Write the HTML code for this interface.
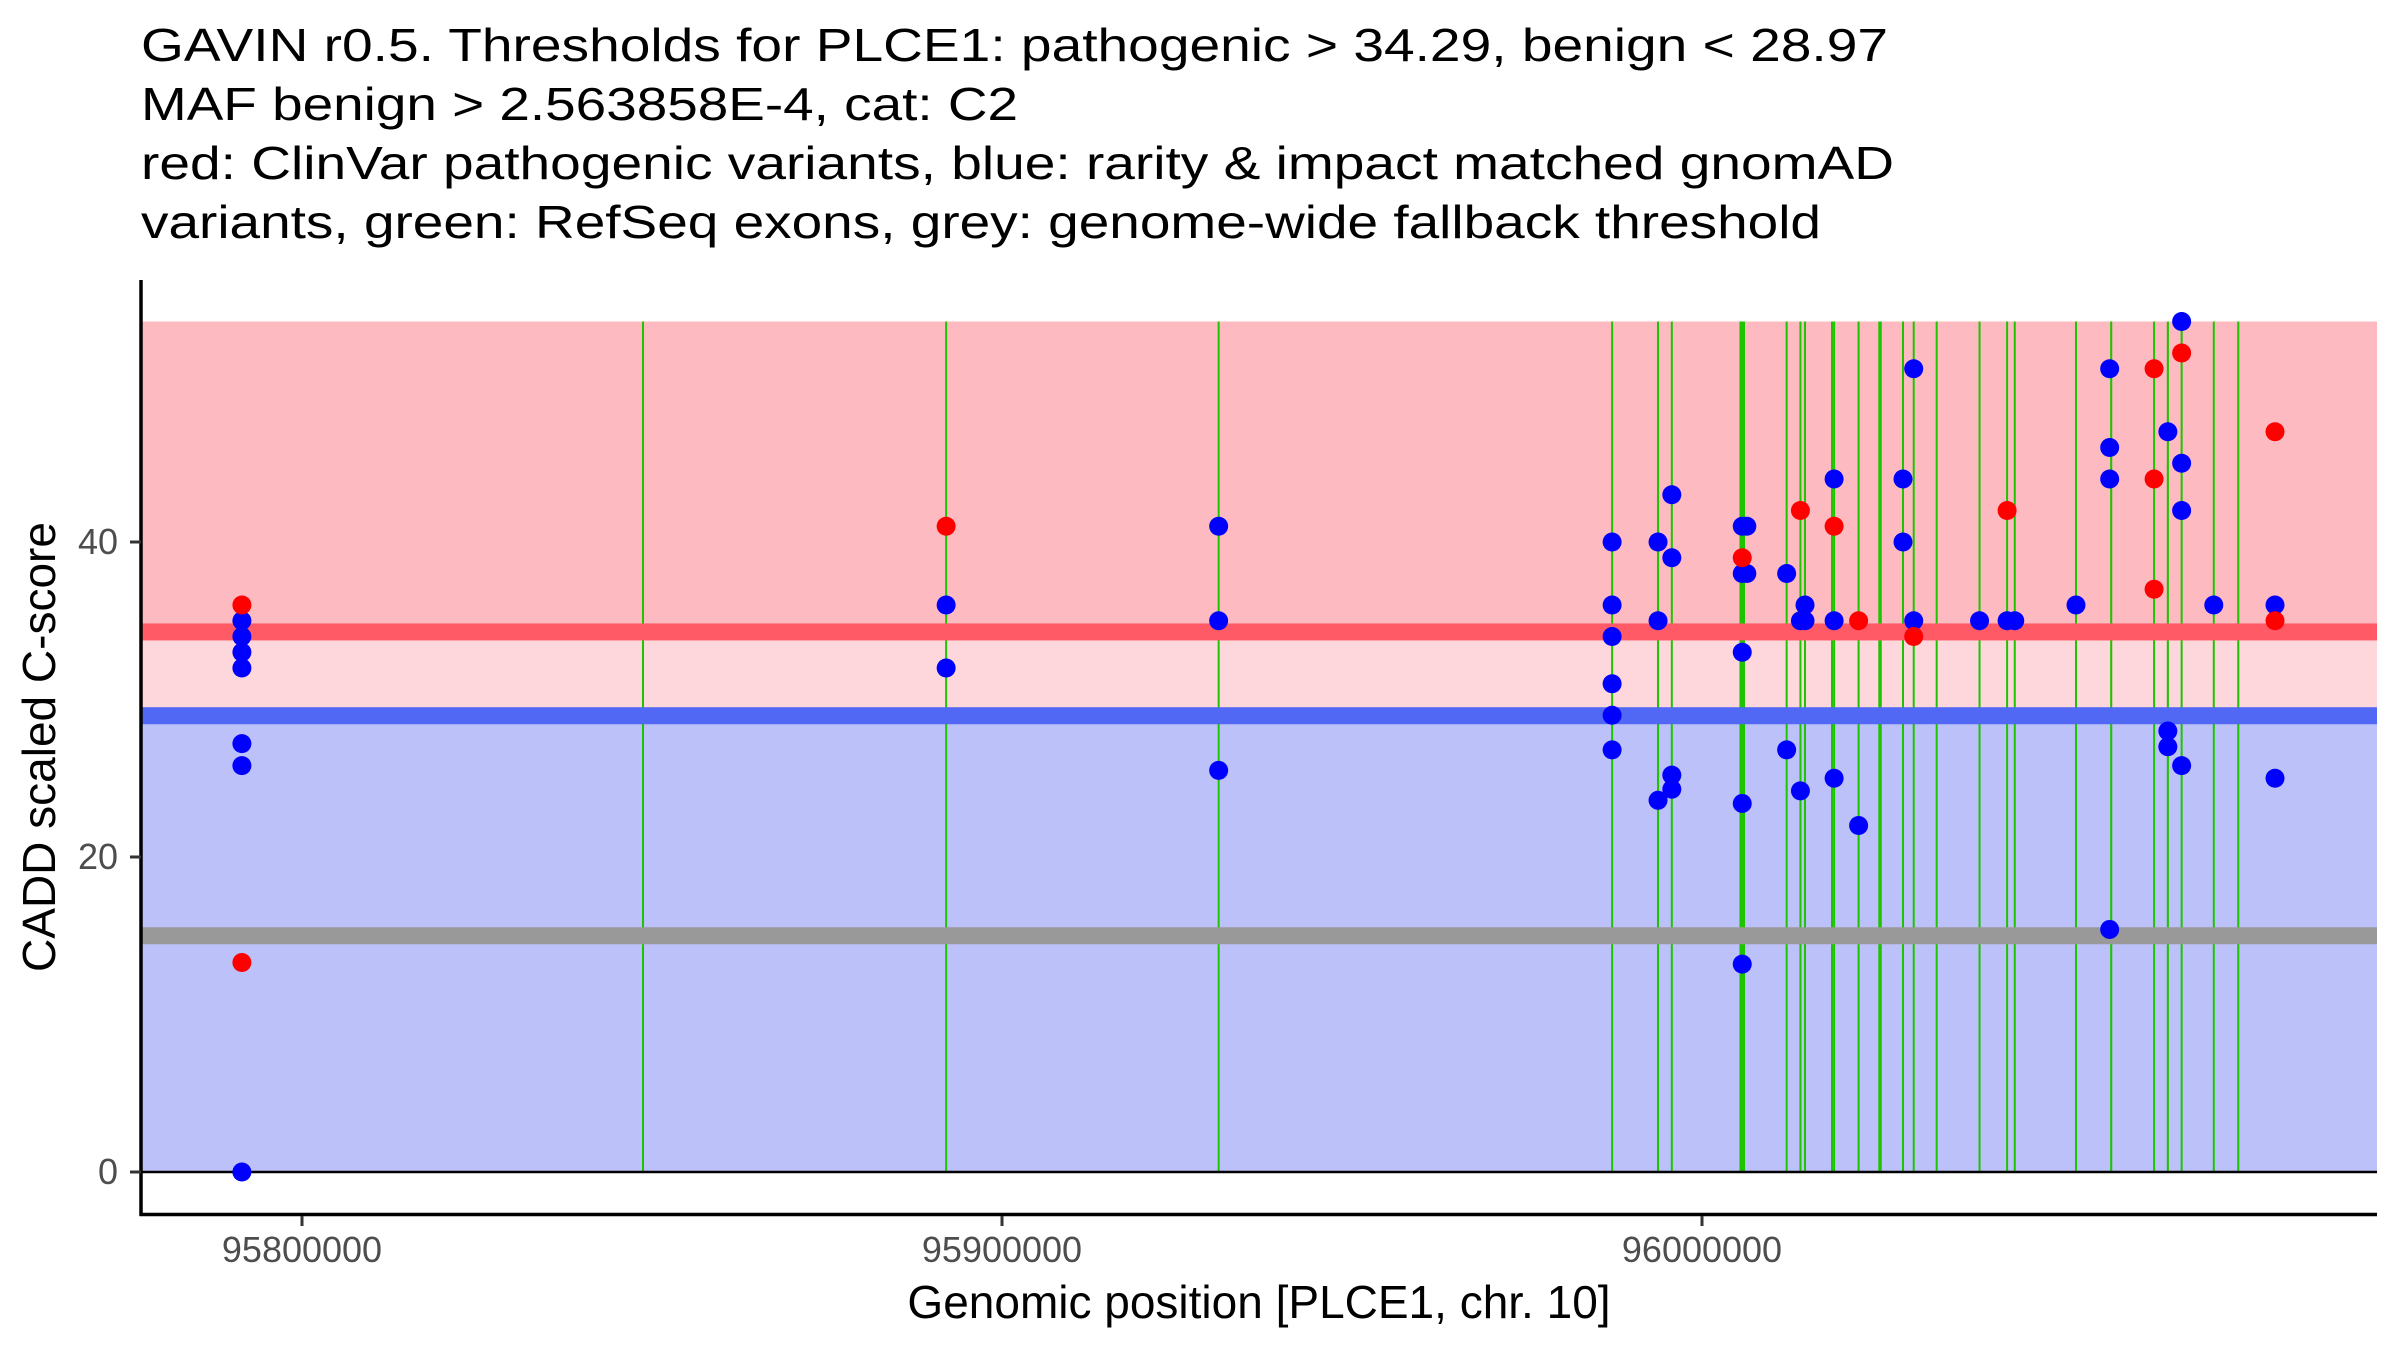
<!DOCTYPE html>
<html><head><meta charset="utf-8"><style>
html,body{margin:0;padding:0;background:#fff}
svg{display:block}
text{font-family:"Liberation Sans",Arial,sans-serif}
</style></head><body>
<svg id="chart" width="2400" height="1350" viewBox="0 0 2400 1350" xmlns="http://www.w3.org/2000/svg">
<g font-size="46" fill="#000">
<text x="141" y="61" textLength="1747" lengthAdjust="spacingAndGlyphs">GAVIN r0.5. Thresholds for PLCE1: pathogenic &gt; 34.29, benign &lt; 28.97</text>
<text x="141" y="120" textLength="877" lengthAdjust="spacingAndGlyphs">MAF benign &gt; 2.563858E-4, cat: C2</text>
<text x="141" y="179" textLength="1753" lengthAdjust="spacingAndGlyphs">red: ClinVar pathogenic variants, blue: rarity &amp; impact matched gnomAD</text>
<text x="141" y="238" textLength="1680" lengthAdjust="spacingAndGlyphs">variants, green: RefSeq exons, grey: genome-wide fallback threshold</text>
</g>
<g id="bands"></g>
<g id="exons"></g>
<g id="hlines"></g>
<g id="points"></g>
<g id="axes"></g>
<text x="1259" y="1318" font-size="46" text-anchor="middle">Genomic position [PLCE1, chr. 10]</text>
<text x="0" y="0" font-size="46" text-anchor="middle" transform="translate(55,747) rotate(-90)">CADD scaled C-score</text>
</svg>
<script>
var thresholds = [34.29, 28.97, 15.0];
var bandTop = [54.0];
var xTicks = [95800000, 95900000, 96000000];
var xTickLabels = ["95800000", "95900000", "96000000"];
var yTicks = [0, 20, 40];
var yTickLabels = ["0", "20", "40"];
var gnomadPos = [95791413,95791413,95791413,95791413,95791413,95791413,95791413,
 95892020,95892020, 95930950,95930950,95930950,
 95987159,95987159,95987159,95987159,95987159,95987159,
 95993720,95993720,95993720, 95995688,95995688,95995688,95995688,
 96005749,96005749,96005749,96005749,96005749, 96006405,96006405,
 96012092,96012092, 96014060,96014060, 96014716,96014716,
 96018872,96018872,96018872, 96022371, 96028714,96028714, 96030245,96030245,
 96039649, 96043586, 96044679, 96053428, 96058239,96058239,96058239,96058239,
 96066550,96066550,96066550, 96068519,96068519,96068519,96068519, 96073112, 96081860,96081860];
var gnomadScore = [35,34,33,32,27.2,25.8,0,
 36,32, 41,35,25.5,
 40,36,34,31,29,26.8,
 40,35,23.6, 43,39,25.2,24.3,
 41,38,33,23.4,13.2, 41,38,
 38,26.8, 35,24.2, 36,35,
 44,35,25, 22, 44,40, 51,35,
 35, 35, 35, 36, 51,46,44,15.4,
 47,28,27, 54,45,42,25.8, 36, 36,25];
var clinvarPos = [95791413,95791413,95892020,96005749,96014060,96018872,96022371,96030245,96043586,96064582,96064582,96064582,96068519,96081860,96081860];
var clinvarScore = [36,13.3,41,39,42,41,35,34,42,51,44,37,52,47,35];
var exonPos = [95848715,95892020,95930950,95987159,95993720,95995688,96005749,96012092,96014060,96014716,96018571,96018872,96022371,96025433,96028714,96030245,96033525,96039649,96043586,96044679,96053428,96058458,96064582,96066550,96068519,96073112,96076611];
var exonLen = [150,150,150,60,300,150,800,150,150,150,150,150,300,500,150,150,150,60,150,150,150,300,150,300,150,150,300];

var NS="http://www.w3.org/2000/svg";
var X0=141, X1=2377;
function X(g){return 302+(g-95800000)*0.007;}
function Y(v){return 1172-v*15.75;}
function mk(tag,attrs,parent){var e=document.createElementNS(NS,tag);for(var k in attrs)e.setAttribute(k,attrs[k]);parent.appendChild(e);return e;}

var bands=document.getElementById('bands');
var b1=mk('rect',{x:X0,y:Y(bandTop[0]),width:X1-X0,height:Y(thresholds[0])-Y(bandTop[0]),fill:'#FDBBC1'},bands);


var b2=mk('rect',{x:X0,y:Y(thresholds[0]),width:X1-X0,height:Y(thresholds[1])-Y(thresholds[0]),fill:'#FED7DC'},bands);


var b3=mk('rect',{x:X0,y:Y(thresholds[1]),width:X1-X0,height:Y(0)-Y(thresholds[1]),fill:'#BCC1F9'},bands);



var ex=document.getElementById('exons');
for(var i=0;i<exonPos.length;i++){
  var w=Math.max(2,exonLen[i]*0.007);
  var r=mk('rect',{x:X(exonPos[i])-w/2,y:Y(bandTop[0]),width:w,height:Y(0)-Y(bandTop[0]),fill:'#1FC400'},ex);
  
  
}

var hl=document.getElementById('hlines');
var hcol=['#FF5A66','#5168F4','#999999'];
var hname=['pathogenic-threshold-line','benign-threshold-line','fallback-threshold-line'];
for(var j=0;j<thresholds.length;j++){
  var l=mk('rect',{x:X0,y:Y(thresholds[j])-8.5,width:X1-X0,height:17,fill:hcol[j]},hl);
  
  
}
var zl=mk('line',{x1:X0,x2:X1,y1:Y(0),y2:Y(0),stroke:'#000','stroke-width':2.5},hl);



var pts=document.getElementById('points');
for(var i=0;i<gnomadPos.length;i++){
  var c=mk('circle',{cx:X(gnomadPos[i]),cy:Y(gnomadScore[i]),r:9.5,fill:'#0000FF'},pts);
  
  
}
for(var i=0;i<clinvarPos.length;i++){
  var c=mk('circle',{cx:X(clinvarPos[i]),cy:Y(clinvarScore[i]),r:9.5,fill:'#FF0000'},pts);
  
  
}

var ax=document.getElementById('axes');
var ya=mk('line',{x1:X0,x2:X0,y1:280,y2:1216,stroke:'#000','stroke-width':3.5},ax);


var xa=mk('line',{x1:X0-1.5,x2:X1,y1:1214.5,y2:1214.5,stroke:'#000','stroke-width':3.5},ax);


for(var i=0;i<xTicks.length;i++){
  var t=mk('line',{x1:X(xTicks[i]),x2:X(xTicks[i]),y1:1216,y2:1226,stroke:'#333','stroke-width':3},ax);
  
  
  var tl=mk('text',{x:X(xTicks[i]),y:1262,'font-size':36,fill:'#4D4D4D','text-anchor':'middle'},ax);
  tl.textContent=xTickLabels[i];
  
  
}
for(var i=0;i<yTicks.length;i++){
  var t=mk('line',{x1:X0-11,x2:X0,y1:Y(yTicks[i]),y2:Y(yTicks[i]),stroke:'#333','stroke-width':3},ax);
  
  
  var tl=mk('text',{x:118,y:Y(yTicks[i])+12,'font-size':36,fill:'#4D4D4D','text-anchor':'end'},ax);
  tl.textContent=yTickLabels[i];
  
  
}
</script>
</body></html>
